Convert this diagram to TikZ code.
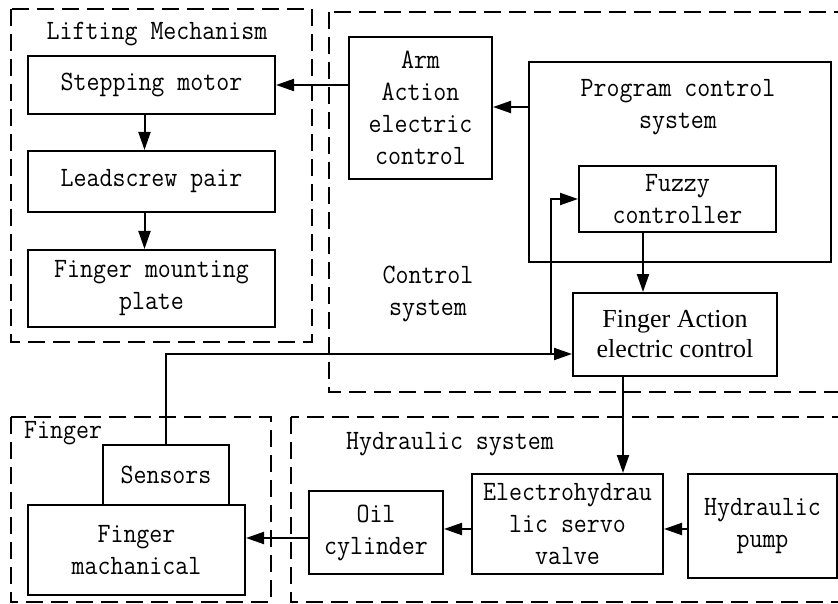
\documentclass[tikz,border=0pt]{standalone}
\usepackage{fontspec}
\setmainfont{Liberation Serif}
\newfontfamily\monof[FakeStretch=0.9]{Latin Modern Mono}
\usetikzlibrary{arrows.meta}
\begin{document}
\begin{tikzpicture}[x=1pt,y=-1pt,
  box/.style={draw, line width=2pt, inner sep=0pt, align=center, font=\monof\fontsize{28}{32}\selectfont},
  grp/.style={draw, line width=2pt, dash pattern=on 17pt off 8pt},
  lbl/.style={inner sep=0pt, align=center, font=\monof\fontsize{28}{32}\selectfont},
  arr/.style={line width=2pt, -{Triangle[length=18pt,width=12pt]}},
  ln/.style={line width=2pt}]
\useasboundingbox (0,0) rectangle (838,604);
\clip (0,0) rectangle (838,604);
\fill[white] (0,0) rectangle (838,604);
% group frames
\draw[grp] (11,9) rectangle (312,342);
\draw[grp] (329,12) rectangle (860,392);
\draw[grp] (11,417) rectangle (271,602);
\draw[grp] (291,417) rectangle (860,602);
% group labels
\node[lbl] (tlift) at (157,34) {Lifting Mechanism};
\node[lbl] (tctrl) at (428,294) {Control\\system};
\node[lbl, anchor=west] (tfing) at (24,433) {Finger};
\node[lbl] (thyd) at (450,444) {Hydraulic system};
% boxes
\node[box, minimum width=247pt, minimum height=58pt] (stepm) at (151.5,85) {\raisebox{-2pt}{Stepping motor}};
\node[box, minimum width=247pt, minimum height=61pt] (lead) at (151.5,181.5) {\raisebox{-2pt}{Leadscrew pair}};
\node[box, minimum width=247pt, minimum height=77pt] (plate) at (151.5,288.5) {Finger mounting\\plate};
\node[box, minimum width=143pt, minimum height=142pt] (arm) at (420.5,108) {Arm\\Action\\electric\\control};
\node[box, minimum width=302pt, minimum height=200pt] (prog) at (680,162) {};
\node[lbl] (tprog) at (678,107) {Program control\\system};
\node[box, minimum width=197pt, minimum height=66pt] (fuzzy) at (677.5,199) {Fuzzy\\controller};
\node[box, minimum width=204pt, minimum height=83pt, font=\fontsize{26}{30}\selectfont] (fact) at (675,334.5) {Finger Action\\electric control};
\node[box, minimum width=126pt, minimum height=60pt] (sens) at (166,475) {\raisebox{-2pt}{Sensors}};
\node[box, minimum width=217pt, minimum height=90pt] (fmach) at (136.5,550) {Finger\\machanical};
\node[box, minimum width=134pt, minimum height=83pt] (oil) at (376,532.5) {Oil\\cylinder};
\node[box, minimum width=191pt, minimum height=100pt] (elec) at (567.5,524) {Electrohydrau\\lic servo\\valve};
\node[box, minimum width=149pt, minimum height=104pt] (pump) at (762.5,526) {Hydraulic\\pump};
% connectors
\coordinate (army) at (349,85);
\draw[arr] (arm.west |- army) -- (army -| stepm.east);
\draw[arr] ([xshift=-7pt]stepm.south) -- ([xshift=-7pt]lead.north);
\draw[arr] ([xshift=-7pt]lead.south) -- ([xshift=-7pt]plate.north);
\coordinate (progy) at (529,107);
\draw[arr] (progy) -- (progy -| arm.east);
\coordinate (fuzx) at (643,232);
\draw[arr] (fuzx) -- (fuzx |- fact.north);
\coordinate (fby) at (573,354);
\coordinate (brx) at (551,354);
\draw[ln] (sens.north) -- (sens.north |- fby) -- (brx);
\draw[arr] (brx) -- (fby -| fact.west);
\draw[arr] (brx) |- (fuzzy.west);
\coordinate (factx) at (623,376);
\draw[arr] (factx) -- (factx |- elec.north);
\coordinate (hy) at (688,529);
\draw[arr] (hy -| pump.west) -- (hy -| elec.east);
\draw[arr] (hy -| elec.west) -- (hy -| oil.east);
\coordinate (oy) at (309,538);
\draw[arr] (oy -| oil.west) -- (oy -| fmach.east);
\end{tikzpicture}
\end{document}
